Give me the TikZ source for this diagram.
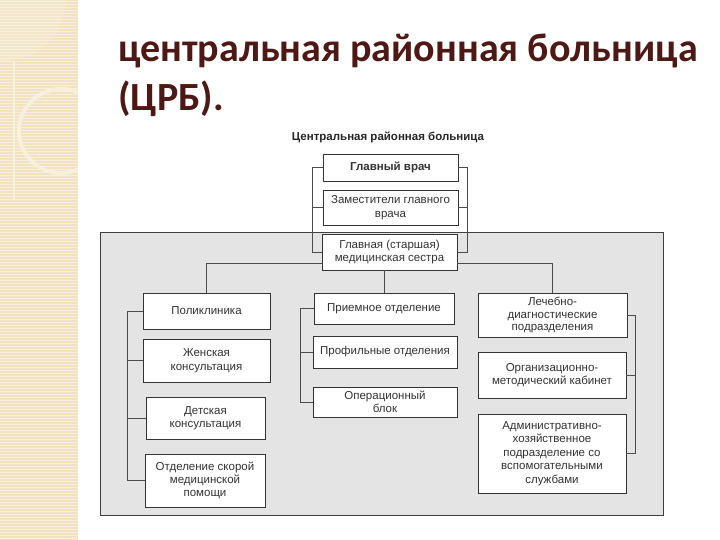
\documentclass[tikz,border=0pt]{standalone}
\usepackage{fontspec}
\setmainfont{Liberation Sans}
\newfontfamily\headfont{Carlito}
\usepackage{xcolor}
\usepackage{tikz}
\usetikzlibrary{calc,positioning}

\definecolor{strip}{HTML}{F1E3C2}
\definecolor{stripline}{HTML}{F8F0DC}
\definecolor{panel}{HTML}{E4E4E4}
\definecolor{maroon}{HTML}{4E1814}

\tikzset{
  unit/.style={draw=black!80,fill=white,line width=0.8pt,align=center,
    inner sep=1pt,text=black!80,font=\fontsize{11.5}{13.5}\selectfont},
  boldunit/.style={font=\bfseries\fontsize{11.5}{13.5}\selectfont},
  tightunit/.style={font=\fontsize{11.5}{12.8}\selectfont},
  link/.style={draw=black!70,line width=0.8pt}
}

\begin{document}
\begin{tikzpicture}[x=1pt,y=-1pt]
			\useasboundingbox (0,0) rectangle (720,540);
			
			% decorative strip
			\fill[strip] (0,0) rectangle (78,540);
			\foreach \y in {1,4,...,540}
				\draw[stripline,line width=0.6pt] (0,\y)--(78,\y);
			\begin{scope}
				\clip (0,0) rectangle (78,540);
				\draw[stripline,line width=4pt] (61,131) circle (42);
				\fill[stripline,opacity=0.35] (0,0)--(66,0) .. controls (62,40) and (40,58) .. (0,62)--cycle;
				\draw[stripline,line width=1.5pt] (14,62)--(14,200);
			\end{scope}
			
			% heading
			\node[anchor=base west,inner sep=0,text=maroon,font=\headfont\bfseries\fontsize{40}{48}\selectfont]
				(title) at (118,62) {центральная районная больница};
			\node[anchor=base west,inner sep=0,text=maroon,font=\headfont\bfseries\fontsize{40}{48}\selectfont]
				(titlecrb) at (118,111) {(ЦРБ).};
			
			% grey panel
			\draw[fill=panel,draw=black!75,line width=0.8pt] (100,232) rectangle (663,515);
			
			\node[boldunit,text=black!85] (crb) at (388,137) {Центральная районная больница};
			
			\node[unit,boldunit,minimum width=135,minimum height=27] (chief) at (390.5,167.5) {Главный врач};
			\node[unit,minimum width=135,minimum height=35] (deputy) at (390.5,207.5) {Заместители главного\\врача};
			\node[unit,minimum width=135,minimum height=36] (nurse) at (389.5,252) {Главная (старшая)\\медицинская сестра};
			
			\node[unit,minimum width=127,minimum height=36] (poly) at (206.5,311) {Поликлиника};
			\node[unit,minimum width=127,minimum height=43] (women) at (206.5,360.5) {Женская\\консультация};
			\node[unit,minimum width=119,minimum height=42] (child) at (205.5,418) {Детская\\консультация};
			\node[unit,tightunit,minimum width=120,minimum height=53] (ambul) at (205,480.5) {Отделение скорой\\медицинской\\помощи};
			
			\node[unit,minimum width=140,minimum height=31] (admission) at (384,308.5) {Приемное отделение};
			\node[unit,minimum width=144,minimum height=32] (profile) at (385,352) {Профильные отделения};
			\node[unit,minimum width=144,minimum height=30] (surgery) at (385,402) {Операционный\\блок};
			
			\node[unit,tightunit,minimum width=149,minimum height=44] (diag) at (552.5,315) {Лечебно-\\диагностические\\подразделения};
			\node[unit,minimum width=148,minimum height=46] (method) at (552,375) {Организационно-\\методический кабинет};
			\node[unit,minimum width=148,minimum height=79] (admin) at (552,453.5) {Административно-\\хозяйственное\\подразделение со\\вспомогательными\\службами};
			
			% bracket rails
			\coordinate (railA) at (312,0);
			\coordinate (railB) at (467,0);
			\coordinate (railC) at (127,0);
			\coordinate (railD) at (300,0);
			\coordinate (railE) at (635,0);
			\coordinate (bus) at (0,263);
			
			\draw[link] (chief.west)--(chief.west -| railA) |- (nurse.west);
			\draw[link] (deputy.west)--(deputy.west -| railA);
			\draw[link] (chief.east)--(chief.east -| railB) |- (nurse.east);
			\draw[link] (deputy.east)--(deputy.east -| railB);
			
			\draw[link] (poly.north)--(poly.north |- bus)--(nurse.west |- bus);
			\draw[link] (nurse.east |- bus)--(diag.north |- bus)--(diag.north);
			\draw[link] (nurse.south -| admission.north)--(admission.north);
			
			\draw[link] (poly.west)--(poly.west -| railC) |- (ambul.west);
			\draw[link] (women.west)--(women.west -| railC);
			\draw[link] (child.west)--(child.west -| railC);
			
			\draw[link] (admission.west)--(admission.west -| railD) |- (surgery.west);
			\draw[link] (profile.west)--(profile.west -| railD);
			
			\draw[link] (diag.east)--(diag.east -| railE) |- (admin.east);
			\draw[link] (method.east)--(method.east -| railE);
		\end{tikzpicture}
\end{document}
